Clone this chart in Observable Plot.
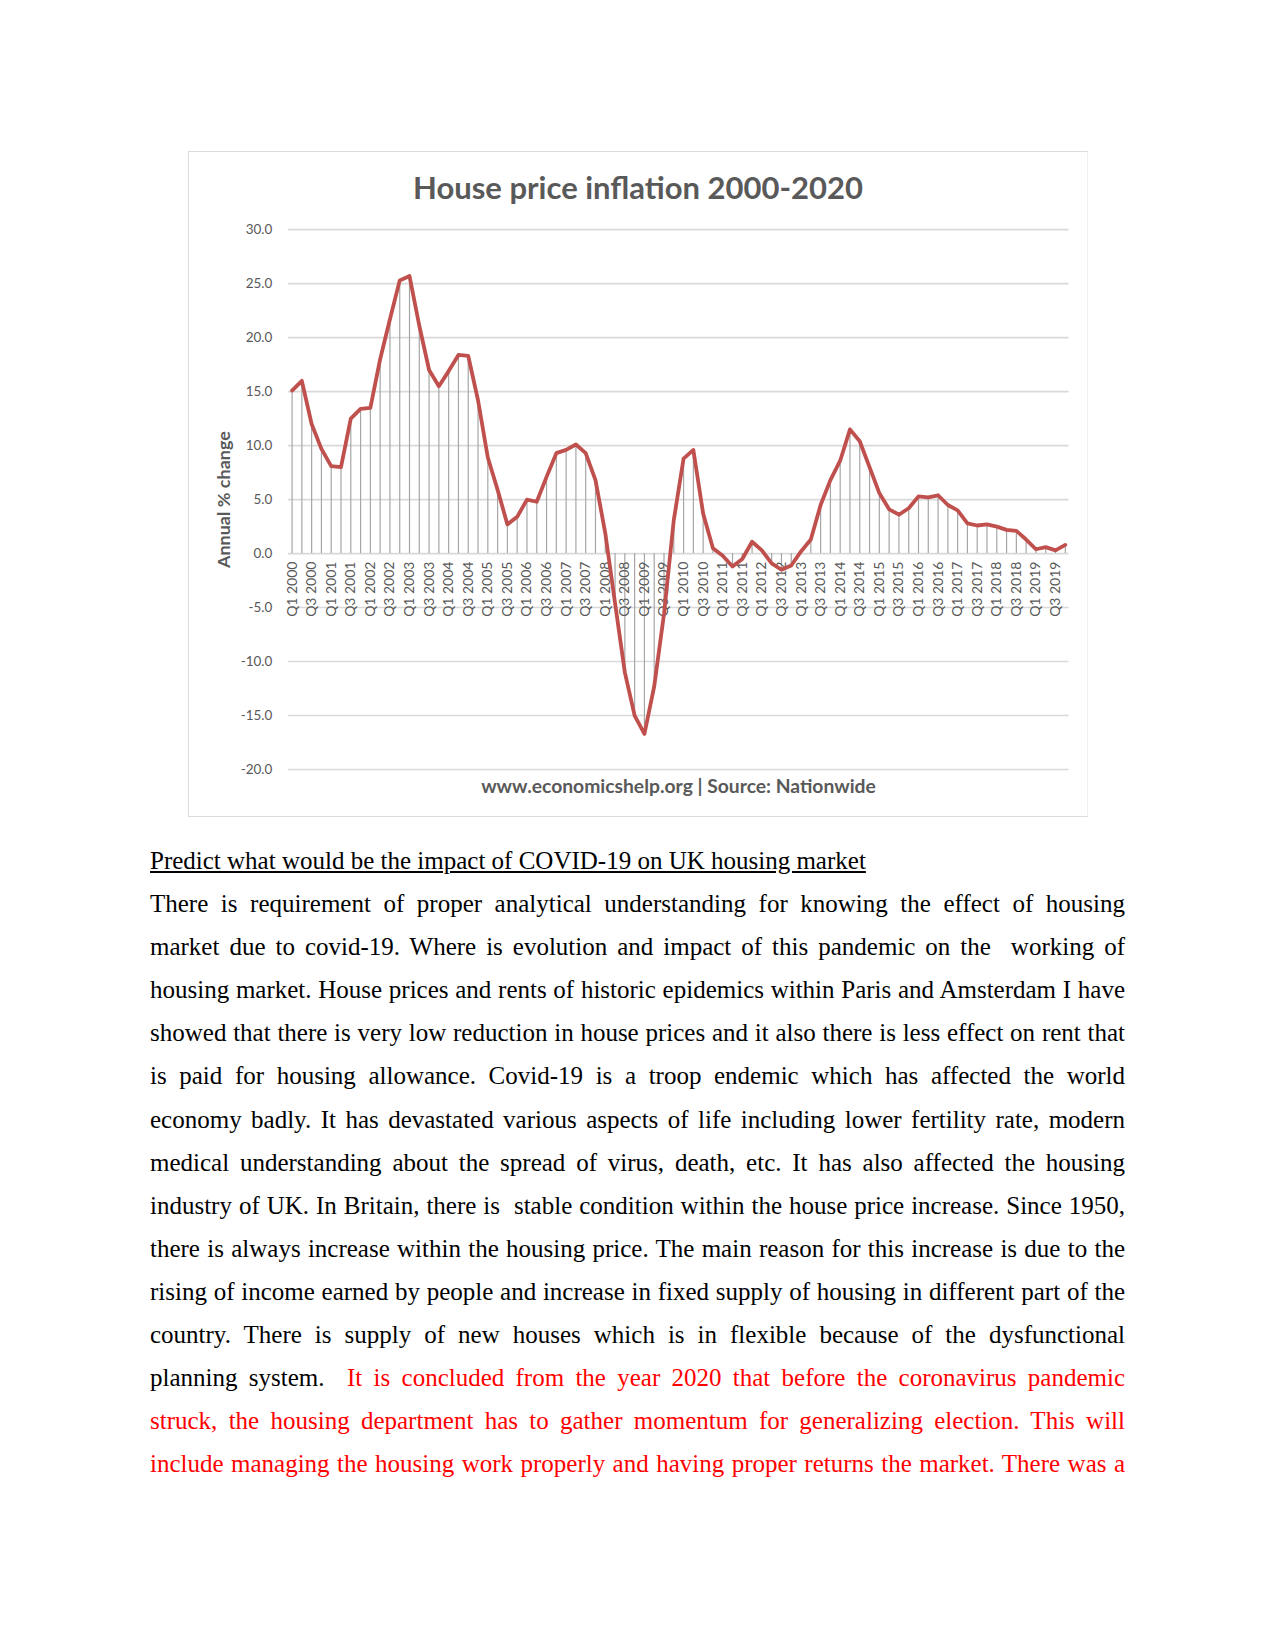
<!DOCTYPE html>
<html>
<head>
<meta charset="utf-8">
<script src="https://cdn.jsdelivr.net/npm/d3@7"></script>
<script src="https://cdn.jsdelivr.net/npm/@observablehq/plot@0.6"></script>
<style>
  html, body { margin: 0; padding: 0; background: #fff; }
  body { width: 1275px; height: 1650px; position: relative; overflow: hidden; }
  #chart { position: absolute; left: 188px; top: 151px; width: 900px; height: 666px;
           border: 1.5px solid #dcdcdc; border-right-color: #f0f0f0; box-sizing: border-box; }
  #title { position: absolute; left: 0; width: 100%; top: 16px; text-align: center;
           font-family: Lato, "Open Sans", sans-serif; font-weight: bold; font-size: 31px; color: #595959; }
  #plot { position: absolute; left: -1.5px; top: 47.5px; }
  #caption { position: absolute; left: 0; width: 100%; top: 622px; text-align: center;
             font-family: Lato, "Open Sans", sans-serif; font-weight: bold; font-size: 19.3px; color: #595959;
             padding-left: 81px; box-sizing: border-box; }
  #doc { position: absolute; left: 150px; top: 839px; width: 975px;
         font-family: "Liberation Serif", "Times New Roman", serif; font-size: 25px; line-height: 43.1px; color: #000; }
  #doc .l { display: block; white-space: nowrap; text-align: justify; text-align-last: justify; }
  #doc .h { text-decoration: underline; text-align: left; text-align-last: left; }
  #doc .r { color: #f00; }
</style>
</head>
<body>
<div id="chart">
  <div id="title">House price inflation 2000-2020</div>
  <div id="plot"></div>
  <div id="caption">www.economicshelp.org | Source: Nationwide</div>
</div>
<div id="doc">
  <span class="l h">Predict what would be the impact of COVID-19 on UK housing market</span>
  <span class="l">There is requirement of proper analytical understanding for knowing the effect of housing</span>
  <span class="l">market due to covid-19. Where is evolution and impact of this pandemic on the&nbsp; working of</span>
  <span class="l">housing market. House prices and rents of historic epidemics within Paris and Amsterdam I have</span>
  <span class="l">showed that there is very low reduction in house prices and it also there is less effect on rent that</span>
  <span class="l">is paid for housing allowance. Covid-19 is a troop endemic which has affected the world</span>
  <span class="l">economy badly. It has devastated various aspects of life including lower fertility rate, modern</span>
  <span class="l">medical understanding about the spread of virus, death, etc. It has also affected the housing</span>
  <span class="l">industry of UK. In Britain, there is&nbsp; stable condition within the house price increase. Since 1950,</span>
  <span class="l">there is always increase within the housing price. The main reason for this increase is due to the</span>
  <span class="l">rising of income earned by people and increase in fixed supply of housing in different part of the</span>
  <span class="l">country. There is supply of new houses which is in flexible because of the dysfunctional</span>
  <span class="l">planning system.&nbsp; <span class="r">It is concluded from the year 2020 that before the coronavirus pandemic</span></span>
  <span class="l r">struck, the housing department has to gather momentum for generalizing election. This will</span>
  <span class="l r">include managing the housing work properly and having proper returns the market. There was a</span>
</div>
<script>
// Quarter categories
const quarters = [
  "Q1 2000","Q2 2000","Q3 2000","Q4 2000",
  "Q1 2001","Q2 2001","Q3 2001","Q4 2001",
  "Q1 2002","Q2 2002","Q3 2002","Q4 2002",
  "Q1 2003","Q2 2003","Q3 2003","Q4 2003",
  "Q1 2004","Q2 2004","Q3 2004","Q4 2004",
  "Q1 2005","Q2 2005","Q3 2005","Q4 2005",
  "Q1 2006","Q2 2006","Q3 2006","Q4 2006",
  "Q1 2007","Q2 2007","Q3 2007","Q4 2007",
  "Q1 2008","Q2 2008","Q3 2008","Q4 2008",
  "Q1 2009","Q2 2009","Q3 2009","Q4 2009",
  "Q1 2010","Q2 2010","Q3 2010","Q4 2010",
  "Q1 2011","Q2 2011","Q3 2011","Q4 2011",
  "Q1 2012","Q2 2012","Q3 2012","Q4 2012",
  "Q1 2013","Q2 2013","Q3 2013","Q4 2013",
  "Q1 2014","Q2 2014","Q3 2014","Q4 2014",
  "Q1 2015","Q2 2015","Q3 2015","Q4 2015",
  "Q1 2016","Q2 2016","Q3 2016","Q4 2016",
  "Q1 2017","Q2 2017","Q3 2017","Q4 2017",
  "Q1 2018","Q2 2018","Q3 2018","Q4 2018",
  "Q1 2019","Q2 2019","Q3 2019","Q4 2019"
];
// Annual % change
const annualChange = [
  15.1, 16.0, 12.0, 9.7,
  8.1, 8.0, 12.5, 13.4,
  13.5, 18.0, 21.7, 25.3,
  25.7, 21.1, 17.0, 15.5,
  16.9, 18.4, 18.3, 14.2,
  8.9, 5.9, 2.7, 3.4,
  5.0, 4.8, 7.1, 9.3,
  9.6, 10.1, 9.3, 6.8,
  1.9, -4.6, -11.0, -15.0,
  -16.7, -12.3, -5.6, 3.1,
  8.8, 9.6, 3.7, 0.5,
  -0.2, -1.2, -0.5, 1.1,
  0.3, -0.9, -1.5, -1.1,
  0.2, 1.3, 4.5, 6.8,
  8.6, 11.5, 10.4, 8.0,
  5.6, 4.1, 3.6, 4.2,
  5.3, 5.2, 5.4, 4.5,
  4.0, 2.8, 2.6, 2.7,
  2.5, 2.2, 2.1, 1.3,
  0.4, 0.6, 0.3, 0.8
];
// Axis tick labels
const xTickLabels = [
  "Q1 2000","Q3 2000","Q1 2001","Q3 2001","Q1 2002","Q3 2002","Q1 2003","Q3 2003",
  "Q1 2004","Q3 2004","Q1 2005","Q3 2005","Q1 2006","Q3 2006","Q1 2007","Q3 2007",
  "Q1 2008","Q3 2008","Q1 2009","Q3 2009","Q1 2010","Q3 2010","Q1 2011","Q3 2011",
  "Q1 2012","Q3 2012","Q1 2013","Q3 2013","Q1 2014","Q3 2014","Q1 2015","Q3 2015",
  "Q1 2016","Q3 2016","Q1 2017","Q3 2017","Q1 2018","Q3 2018","Q1 2019","Q3 2019"
];
const yTicks = [30, 25, 20, 15, 10, 5, 0, -5, -10, -15, -20];
const yLabel = "Annual % change";

const data = quarters.map((q, i) => ({q, v: annualChange[i]}));

const chart = Plot.plot({
  width: 901,
  height: 576,
  marginLeft: 100,
  marginRight: 19,
  marginTop: 29.2,
  marginBottom: 6,
  style: {fontFamily: "Lato, 'Open Sans', sans-serif", background: "transparent", overflow: "visible"},
  x: {type: "point", domain: quarters, padding: 0.38, axis: null},
  y: {domain: [-20, 30], axis: null},
  marks: [
    Plot.ruleY(yTicks, {y: d => d, stroke: "#d9d9d9", strokeWidth: 1.6}),
    Plot.ruleX(data, {x: "q", y1: () => 0, y2: "v", stroke: "#a6a6a6", strokeWidth: 1.2}),
    Plot.text(yTicks, {y: d => d, frameAnchor: "left", dx: -16, textAnchor: "end",
                       text: d => d.toFixed(1), fontSize: 13.5, fill: "#595959"}),
    Plot.text(xTickLabels, {x: d => d, y: () => 0, text: d => d, rotate: -90, textAnchor: "end",
                            dy: 8, fontSize: 14, fill: "#595959"}),
    Plot.line(data, {x: "q", y: "v", stroke: "#c0504d", strokeWidth: 3.8,
                     strokeLinejoin: "round", strokeLinecap: "round"}),
    Plot.text([yLabel], {frameAnchor: "left", rotate: -90, dx: -64, textAnchor: "middle", text: d => d,
                         fontSize: 18, fontWeight: "bold", fill: "#595959"})
  ]
});
document.getElementById("plot").appendChild(chart);
</script>
</body>
</html>
